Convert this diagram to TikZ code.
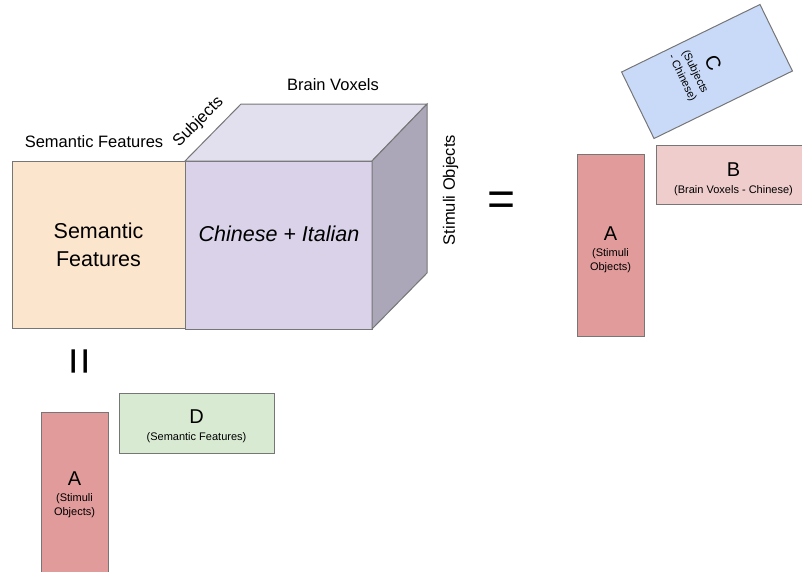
\documentclass[tikz,border=0pt]{standalone}
\usepackage{fontspec}
\setmainfont{Liberation Sans}
\usepackage{tikz}

\definecolor{peach}{HTML}{FCE5CD}
\definecolor{cubefront}{HTML}{D9D2E9}
\definecolor{cubetop}{HTML}{E2DFEE}
\definecolor{cubeside}{HTML}{ABA7B8}
\definecolor{factorA}{HTML}{E09B9A}
\definecolor{factorB}{HTML}{EECDCC}
\definecolor{factorC}{HTML}{C9DAF8}
\definecolor{factorD}{HTML}{D9EAD3}
\definecolor{edge}{HTML}{767676}

\tikzset{
  box/.style={draw=edge, line width=1pt, inner sep=0pt, outer sep=0pt},
  axislabel/.style={font=\fontsize{16.5}{19}\selectfont, inner sep=0pt},
  factortext/.style={align=center, inner sep=0pt, font=\fontsize{11}{14}\selectfont},
  bigsign/.style={font=\fontsize{48}{48}\selectfont, inner sep=0pt}
}
\newcommand{\factorname}[2]{{\fontsize{20}{20}\selectfont #1}\\[2.5pt]#2}

\begin{document}
\begin{tikzpicture}[x=1pt, y=1pt]
\useasboundingbox (0,0) rectangle (802,-571);

% features matrix and the data cube
\node[box, fill=peach, minimum width=173pt, minimum height=167pt, align=center,
  font=\fontsize{21.5}{28}\selectfont] (sem) at (98.5,-244.5) {Semantic\\Features};
\node[box, fill=cubefront, minimum width=187pt, minimum height=168pt] (front) at (278.5,-245) {};
\draw[box, fill=cubetop] (front.north west) -- ++(56,57) -- ++(186,0) -- (front.north east) -- cycle;
\draw[box, fill=cubeside] (front.north east) -- ++(55,57) -- ++(0,-169) -- (front.south east) -- cycle;
\node[font=\fontsize{21.5}{26}\selectfont\itshape, inner sep=0pt] (mix) at (279,-234) {Chinese + Italian};

\node[axislabel, anchor=base] (featlabel) at (94,-147) {Semantic Features};
\node[axislabel, rotate=45] (subjlabel) at (198.5,-122) {Subjects};
\node[axislabel, anchor=base] (voxlabel) at (333,-90) {Brain Voxels};
\node[axislabel, rotate=90] (stimlabel) at (450.5,-190) {Stimuli Objects};

\node[bigsign] (eq) at (502,-204) {=};
\node[bigsign, rotate=90] (eqdown) at (83.5,-361) {=};

% decomposition on the right
\node[box, fill=factorA, minimum width=67pt, minimum height=182pt] (aright) at (610.5,-245) {};
\node[factortext] (arighttext) at ([yshift=-5pt]aright.center) {\factorname{A}{(Stimuli\\Objects)}};
\node[box, fill=factorB, minimum width=155pt, minimum height=59pt] (bright) at (733.5,-174.5) {};
\node[factortext] (brighttext) at ([yshift=-5pt]bright.center) {\factorname{B}{(Brain Voxels - Chinese)}};
\node[box, fill=factorC, minimum width=74pt, minimum height=154pt, rotate=-64] (cright) at (707,-71.5) {};
\node[factortext, rotate=-64] (crighttext) at ([shift={(-8.5pt,1.5pt)}]cright.center) {\factorname{C}{(Subjects\\- Chinese)}};

% decomposition below
\node[box, fill=factorA, minimum width=67pt, minimum height=182pt] (aleft) at (74.5,-503) {};
\node[factortext] (alefttext) at ([yshift=8.5pt]aleft.center) {\factorname{A}{(Stimuli\\Objects)}};
\node[box, fill=factorD, minimum width=155pt, minimum height=60pt] (dleft) at (196.5,-423) {};
\node[factortext] (dlefttext) at ([yshift=-3pt]dleft.center) {\factorname{D}{(Semantic Features)}};
\end{tikzpicture}
\end{document}
